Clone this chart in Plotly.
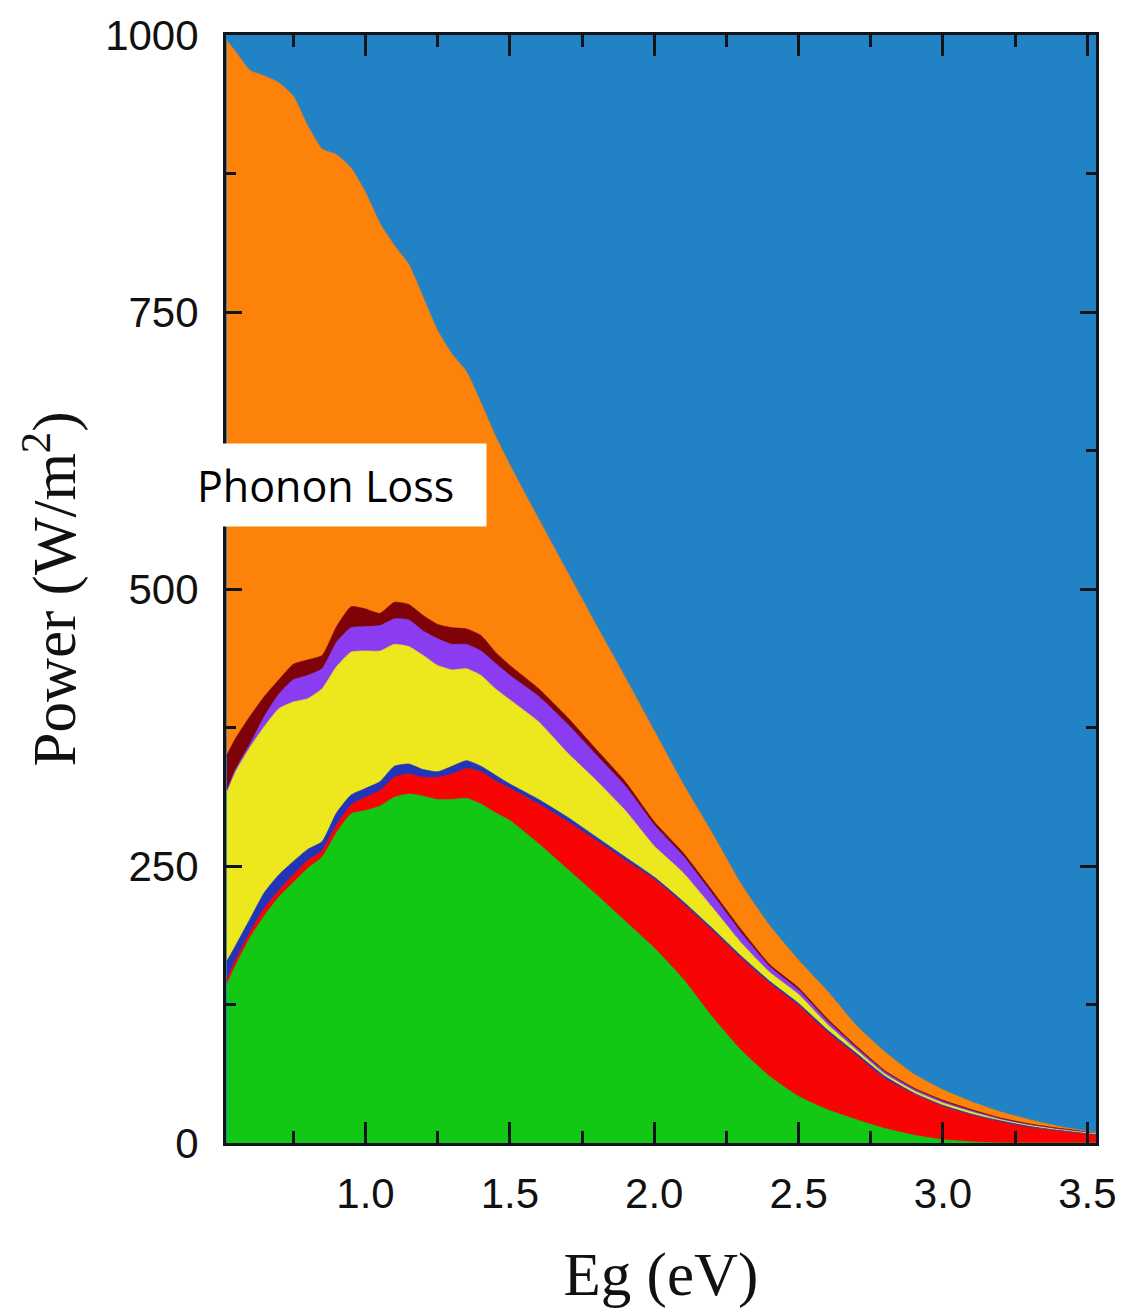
import plotly.graph_objects as go

# Band gap (eV)
eg = [0.52, 0.55, 0.60, 0.65, 0.70, 0.75, 0.80, 0.85, 0.90, 0.95, 1.00, 1.05, 1.10, 1.15,
      1.20, 1.25, 1.30, 1.35, 1.40, 1.45, 1.50, 1.60, 1.70, 1.80, 1.90, 2.00, 2.10, 2.20,
      2.30, 2.40, 2.50, 2.60, 2.70, 2.80, 2.90, 3.00, 3.10, 3.20, 3.30, 3.40, 3.50, 3.53]

# Cumulative upper boundaries of each stacked band (W/m^2)
green_top = [143, 160, 185, 205, 222, 235, 248, 258, 280, 297, 300, 304, 312, 315,
             313, 310, 310, 311, 306, 298, 291, 270, 247, 224, 200, 176, 148, 114,
             84, 60, 42, 30, 21, 13, 7, 3, 1, 0, 0, 0, 0, 0]
red_top = [148, 165, 190, 212, 228, 242, 255, 264, 287, 305, 312, 318, 330, 333,
           330, 330, 333, 338, 335, 327, 320, 306, 290, 273, 255, 238, 216, 192,
           167, 144, 124, 100, 79, 58, 44, 33, 25, 19, 14, 11, 8, 7]
blue_top = [164, 178, 202, 226, 242, 254, 265, 272, 298, 314, 320, 326, 340, 342,
            337, 335, 340, 345, 340, 332, 324, 310, 294, 276, 258, 240, 218, 194,
            169, 146, 126, 102, 81, 60, 45, 34, 26, 20, 15, 11.5, 8.5, 7.5]
yellow_top = [317, 335, 357, 376, 392, 398, 401, 410, 430, 443, 444, 444, 450, 448,
              440, 431, 427, 428, 422, 410, 400, 380, 352, 327, 300, 268, 244, 213,
              181, 154, 134, 107, 84, 62, 47, 36, 28, 21, 16, 12.5, 9.5, 8.5]
purple_top = [318, 337, 360, 385, 405, 418, 422, 428, 452, 465, 466, 467, 473, 472,
              462, 455, 450, 450, 444, 433, 422, 403, 378, 350, 322, 287, 259, 225,
              190, 159, 138, 110, 86, 64, 48.5, 37.5, 29, 22, 16.8, 13, 10, 9]
darkred_top = [350, 365, 385, 403, 418, 432, 436, 440, 466, 484, 482, 478, 488, 486,
               476, 468, 465, 464, 458, 443, 431, 410, 384, 355, 326, 290, 262, 228,
               193, 161, 140, 112, 87.5, 65, 49.5, 38.5, 30, 22.5, 17.2, 13.3, 10.3, 9.3]
orange_top = [995, 985, 968, 963, 957, 945, 918, 897, 892, 880, 858, 830, 810, 793,
              763, 733, 712, 696, 668, 638, 612, 563, 515, 467, 420, 372, 324, 280,
              234, 196, 165, 137, 106, 82, 62, 48, 37, 28, 21, 15, 10.5, 9.5]
incident_total = [1000] * len(eg)

x_ticks = [1.0, 1.5, 2.0, 2.5, 3.0, 3.5]
y_ticks = [0, 250, 500, 750, 1000]

layers = [
    (green_top, "#12C814"),
    (red_top, "#F80404"),
    (blue_top, "#2434B8"),
    (yellow_top, "#EDE81E"),
    (purple_top, "#8C3CF0"),
    (darkred_top, "#7E0208"),
    (orange_top, "#FD8209"),
    (incident_total, "#2282C6"),
]

fig = go.Figure()
for i, (vals, col) in enumerate(layers):
    fig.add_trace(go.Scatter(
        x=eg, y=vals, mode="lines",
        line=dict(color=col, width=0.8, shape="spline", smoothing=0.5),
        fill="tozeroy" if i == 0 else "tonexty",
        fillcolor=col, showlegend=False, hoverinfo="skip",
    ))

axis_col = "#111418"
fig.update_xaxes(
    range=[0.517, 3.53], tickvals=x_ticks, ticktext=[f"{v:.1f}" for v in x_ticks],
    ticks="inside", ticklen=21, tickwidth=3, tickcolor=axis_col,
    minor=dict(ticks="inside", ticklen=12, tickwidth=3, tickcolor=axis_col,
               tickvals=[0.75, 1.25, 1.75, 2.25, 2.75, 3.25]),
    showline=True, linecolor=axis_col, linewidth=3, mirror="allticks",
    showgrid=False, zeroline=False,
    tickfont=dict(family="Liberation Sans, Arial", size=42, color="#111"),
    ticklabelstandoff=12,
    title=dict(text="Eg (eV)", font=dict(family="Liberation Serif, Times New Roman", size=61, color="#111"),
               standoff=36),
)
fig.update_yaxes(
    range=[0, 1000], tickvals=y_ticks, ticktext=[str(v) for v in y_ticks],
    ticks="inside", ticklen=16, tickwidth=3, tickcolor=axis_col,
    minor=dict(ticks="inside", ticklen=10, tickwidth=3, tickcolor=axis_col,
               tickvals=[125, 375, 625, 875]),
    showline=True, linecolor=axis_col, linewidth=3, mirror="allticks",
    showgrid=False, zeroline=False,
    tickfont=dict(family="Liberation Sans, Arial", size=42, color="#111"),
    ticklabelstandoff=16,
    title=dict(text="Power (W/m<sup>2</sup>)", font=dict(family="Liberation Serif, Times New Roman", size=61, color="#111"),
               standoff=10),
)

fig.add_annotation(
    text="Phonon Loss", xref="paper", yref="paper", x=0.1299, y=0.5937,
    xanchor="center", yanchor="middle", showarrow=False, align="left",
    width=285, height=74, borderpad=4, bgcolor="white",
    font=dict(family="Open Sans, Noto Sans", size=43, color="black"),
)

fig.update_layout(
    width=1128, height=1316,
    margin=dict(l=226, r=28, t=33, b=173, pad=0),
    paper_bgcolor="white", plot_bgcolor="#2282C6",
)

fig.write_html("out.html")
